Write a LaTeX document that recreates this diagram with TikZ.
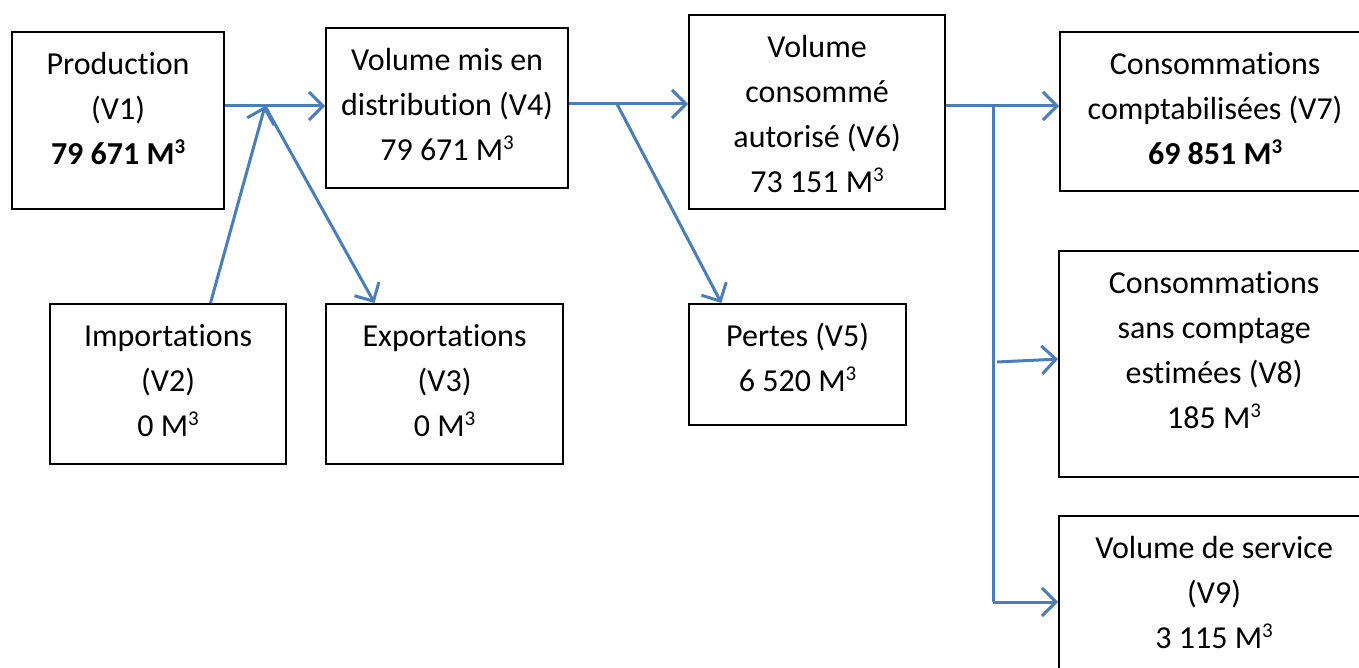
\documentclass[tikz,border=0pt]{standalone}
\usepackage{fontspec}
\setmainfont{Carlito}[Ligatures=NoCommon]
\usetikzlibrary{arrows.meta,calc}
\definecolor{arrblue}{HTML}{4A7EBB}
\newcommand{\mc}{\raisebox{0.36em}{\fontsize{21}{21}\selectfont 3}}
\newcommand{\boxtext}[3]{\parbox[t][#2][t]{#1}{\centering\vspace*{11pt}#3}}
\tikzset{
  box/.style={draw=black, line width=2.2pt, inner sep=0pt, anchor=north west,
    font=\fontsize{32}{45}\selectfont},
  conn/.style={draw=arrblue, line width=3pt},
  arr/.style={conn, -{Straight Barb[length=14pt,width=28pt]}},
}
\begin{document}
\begin{tikzpicture}[x=1pt,y=-1pt]
\useasboundingbox (0,0) rectangle (1359,668);
\clip (0,0) rectangle (1359,668);
\node[box] (prod) at (11,31) {\boxtext{212pt}{177pt}{\strut Production\\(V1)\\\textbf{79 671 M\mc}}};
\node[box] (volmis) at (325,27) {\boxtext{242pt}{160pt}{\strut Volume mis en\\distribution (V4)\\79 671 M\mc}};
\node[box] (volcons) at (688,14) {\boxtext{256pt}{194pt}{\strut Volume\\consommé\\autorisé (V6)\\73 151 M\mc}};
\node[box] (v7) at (1059,31) {\boxtext{310pt}{159pt}{\strut Consommations\\comptabilisées (V7)\\\textbf{69 851 M\mc}}};
\node[box] (imp) at (49,303) {\boxtext{236pt}{160pt}{\strut Importations\\(V2)\\0 M\mc}};
\node[box] (exp) at (325,303) {\boxtext{237pt}{160pt}{\strut Exportations\\(V3)\\0 M\mc}};
\node[box] (pertes) at (688,303) {\boxtext{217pt}{121pt}{\strut Pertes (V5)\\6 520 M\mc}};
\node[box] (v8) at (1058,250) {\boxtext{310pt}{226pt}{\strut Consommations\\sans comptage\\estimées (V8)\\185 M\mc}};
\node[box] (v9) at (1058,515) {\boxtext{310pt}{180pt}{\strut Volume de service\\(V9)\\3 115 M\mc}};
\coordinate (j1) at (265,106);
\coordinate (j2) at (617,104);
\coordinate (j3) at (993,106);
\coordinate (j4) at (993,602);
\coordinate (j5) at (997,362);
\draw[arr] (prod.east |- j1) -- (volmis.west |- j1);
\draw[arr] ($(imp.north west)!0.678!(imp.north east)$) -- (j1);
\draw[arr] (j1) -- ($(exp.north west)!0.207!(exp.north east)$);
\draw[arr] (volmis.east |- j2) -- (volcons.west |- j2);
\draw[arr] (j2) -- ($(pertes.north west)!0.152!(pertes.north east)$);
\draw[arr] (volcons.east |- j3) -- (v7.west |- j3);
\draw[conn] (j3) -- (j4);
\draw[arr] (j4) -- (v9.west |- j4);
\draw[arr] (j5) -- ($(v8.north west)!0.478!(v8.south west)$);
\end{tikzpicture}
\end{document}
